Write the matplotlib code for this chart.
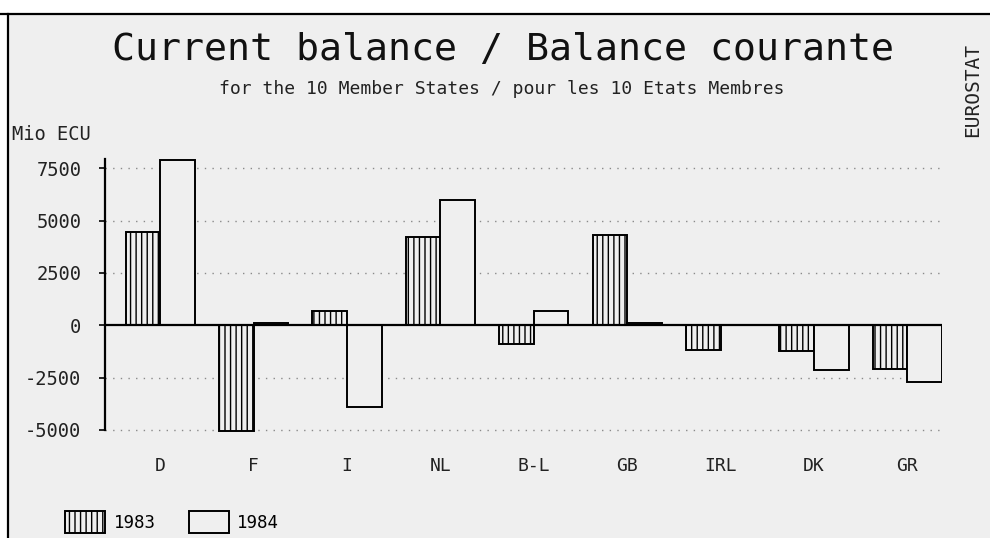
import matplotlib
matplotlib.use("Agg")
import matplotlib.pyplot as plt
from matplotlib.patches import Rectangle
from matplotlib.lines import Line2D
import numpy as np

countries = ["D", "F", "I", "NL", "B-L", "GB", "IRL", "DK", "GR"]
v1983 = [4450, -5050, 700, 4200, -900, 4300, -1200, -1250, -2100]
v1984 = [7900, 100, -3900, 6000, 700, 100, 0, -2150, -2700]
series_labels = ["1983", "1984"]
yticks = [-5000, -2500, 0, 2500, 5000, 7500]
ytick_labels = ["-5000", "-2500", "0", "2500", "5000", "7500"]

BG = "#efefef"
MONO = "DejaVu Sans Mono"
plt.rcParams["hatch.linewidth"] = 1.0

W, H = 990, 538
fig = plt.figure(figsize=(W / 100, H / 100), dpi=100, facecolor="white")

def fx(px):
    return px / W

def fy(py):
    return 1 - py / H

# panel background and border (top + left)
fig.add_artist(Rectangle((fx(8), 0), 1 - fx(8), fy(14), transform=fig.transFigure,
                         facecolor=BG, edgecolor="none", zorder=-10))
fig.add_artist(Line2D([fx(0), 1], [fy(14), fy(14)], transform=fig.transFigure,
                      color="black", lw=1.6))
fig.add_artist(Line2D([fx(8), fx(8)], [fy(14), 0], transform=fig.transFigure,
                      color="black", lw=1.6))

ax = fig.add_axes([fx(105), fy(433), fx(942) - fx(105), fy(159) - fy(433)])
ax.set_facecolor("none")

x = np.arange(len(countries))
w = 0.37
ax.set_xlim(-0.59, len(countries) - 1 + 0.37)
ax.set_ylim(-5150, 7950)

# dotted gridlines
for t in yticks:
    if t != 0:
        ax.axhline(t, color="#8a8a8a", lw=1.0, ls=(0, (1, 4.5)), zorder=0)

b1 = ax.bar(x - w / 2, v1983, width=w, facecolor=BG, edgecolor="black",
            hatch="|||", lw=1.4, zorder=3)
b2 = ax.bar(x + w / 2, v1984, width=w, facecolor=BG, edgecolor="black",
            lw=1.4, zorder=3)

ax.axhline(0, color="black", lw=1.6, zorder=4)

for s in ["top", "right", "bottom"]:
    ax.spines[s].set_visible(False)
ax.spines["left"].set_linewidth(1.6)
ax.spines["left"].set_bounds(-5000, 7950)

ax.set_yticks(yticks)
ax.set_yticklabels(ytick_labels, fontfamily=MONO, fontsize=13.5, color="#222222")
ax.tick_params(axis="y", length=4, width=1.2, pad=13)
ax.set_xticks(x)
ax.set_xticklabels(countries, fontfamily=MONO, fontsize=13, color="#222222")
ax.tick_params(axis="x", length=0, pad=17)

# texts
fig.text(fx(503), fy(50), "Current balance / Balance courante", fontfamily=MONO,
         fontsize=27.5, ha="center", va="center", color="#111111")
fig.text(fx(502), fy(89), "for the 10 Member States / pour les 10 Etats Membres",
         fontfamily=MONO, fontsize=13, ha="center", va="center", color="#222222")
fig.text(fx(12), fy(135), "Mio ECU", fontfamily=MONO, fontsize=13.5,
         ha="left", va="center", color="#222222")
fig.text(fx(973), fy(90), "EUROSTAT", fontfamily=MONO, fontsize=14, rotation=90,
         ha="center", va="center", color="#222222")

# legend
leg = fig.legend([b1, b2], series_labels, loc="center left",
                 bbox_to_anchor=(fx(53), fy(522)), ncol=2, frameon=False,
                 prop={"family": MONO, "size": 12.5}, handlelength=2.3,
                 handleheight=1.6, columnspacing=1.9, handletextpad=0.5,
                 borderpad=0.2)

fig.savefig("out.png", dpi=100, facecolor="white")
